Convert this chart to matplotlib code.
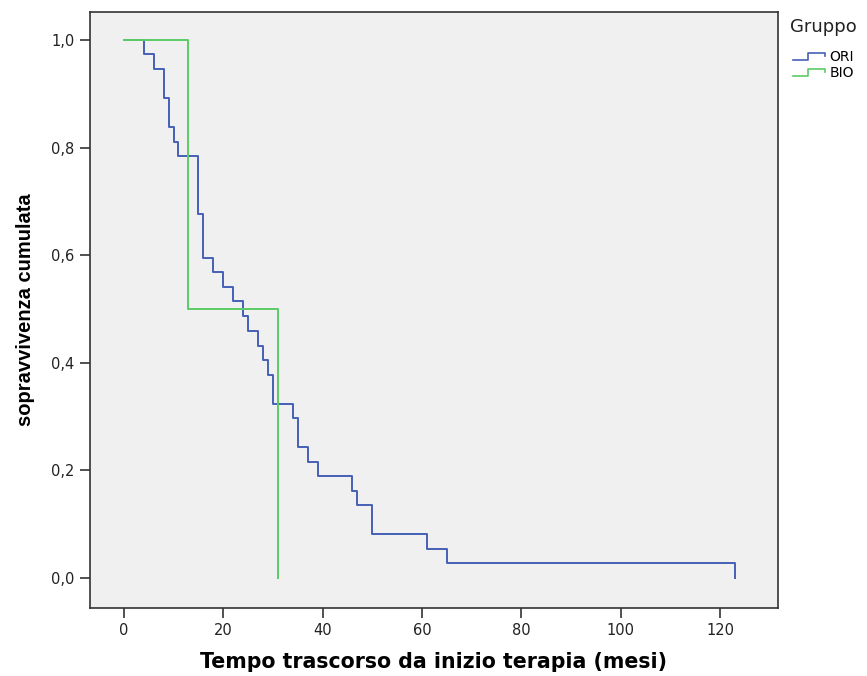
import matplotlib
matplotlib.use("Agg")
import matplotlib.pyplot as plt
from matplotlib.legend_handler import HandlerBase
from matplotlib.lines import Line2D

# ---- data ----
ori_times = [0, 4, 6, 8, 9, 10, 11, 15, 16, 18, 20, 22, 24, 25, 27, 28, 29, 30,
             34, 35, 37, 39, 46, 47, 50, 61, 65, 123]
ori_surv = [1.000, 0.973, 0.946, 0.892, 0.838, 0.811, 0.784, 0.676, 0.595, 0.568,
            0.541, 0.514, 0.486, 0.459, 0.432, 0.405, 0.378, 0.324, 0.297, 0.243,
            0.216, 0.189, 0.162, 0.135, 0.081, 0.054, 0.027, 0.000]
bio_times = [0, 13, 31]
bio_surv = [1.0, 0.5, 0.0]

group_labels = ["ORI", "BIO"]
xticks = [0, 20, 40, 60, 80, 100, 120]
yticks = [0.0, 0.2, 0.4, 0.6, 0.8, 1.0]
ytick_labels = ["0,0", "0,2", "0,4", "0,6", "0,8", "1,0"]

col_ori = "#4560b5"
col_bio = "#5ccb66"

fig = plt.figure(figsize=(8.67, 6.76), dpi=100)
fig.patch.set_facecolor("white")
ax = fig.add_axes([90/867, 68/676, 688/867, 596/676])
ax.set_facecolor("#f0f0f0")

ax.step(ori_times, ori_surv, where="post", color=col_ori, lw=1.4)
ax.step(bio_times, bio_surv, where="post", color=col_bio, lw=1.4)

ax.set_xlim(-6.8, 131.6)
ax.set_ylim(-0.056, 1.052)
ax.set_xticks(xticks)
ax.set_xticklabels([str(v) for v in xticks])
ax.set_yticks(yticks)
ax.set_yticklabels(ytick_labels)

for lab in ax.get_xticklabels() + ax.get_yticklabels():
    lab.set_family(["DejaVu Sans"])
    lab.set_fontsize(10.5)
    lab.set_color("#222222")
ax.tick_params(direction="out", length=7, width=1.2, color="#333333", pad=4)

for s in ax.spines.values():
    s.set_color("#333333")
    s.set_linewidth(1.2)

ax.set_xlabel("Tempo trascorso da inizio terapia (mesi)", fontsize=14.8,
              fontweight="bold", family=["DejaVu Sans"], labelpad=10)
ax.set_ylabel("sopravvivenza cumulata", fontsize=14.5, fontweight="bold",
              family=["Liberation Sans", "DejaVu Sans"], labelpad=12)


class StepHandler(HandlerBase):
    def create_artists(self, legend, orig_handle, xdescent, ydescent, width,
                       height, fontsize, trans):
        x0 = -xdescent
        y0 = -ydescent
        xs = [x0, x0 + width * 0.45, x0 + width * 0.45, x0 + width * 0.95, x0 + width * 0.95]
        ys = [y0 + height * 0.1, y0 + height * 0.1, y0 + height * 0.8,
              y0 + height * 0.8, y0 + height * 0.5]
        ln = Line2D(xs, ys, color=orig_handle.get_color(), lw=1.2, transform=trans)
        return [ln]


fig.text(790/867, 1 - 27/676, "Gruppo", fontsize=13, family=["DejaVu Sans"],
         ha="left", va="center", color="#222222")

handles = [Line2D([], [], color=col_ori), Line2D([], [], color=col_bio)]
leg = fig.legend(handles, group_labels,
                 loc="upper left", bbox_to_anchor=(786/867, 1 - 43/676),
                 frameon=False,
                 handlelength=2.4, handletextpad=0.25, labelspacing=0.15,
                 borderpad=0, handler_map={Line2D: StepHandler()},
                 prop={"family": ["DejaVu Sans"], "size": 10})

fig.savefig("out.png", dpi=100)
